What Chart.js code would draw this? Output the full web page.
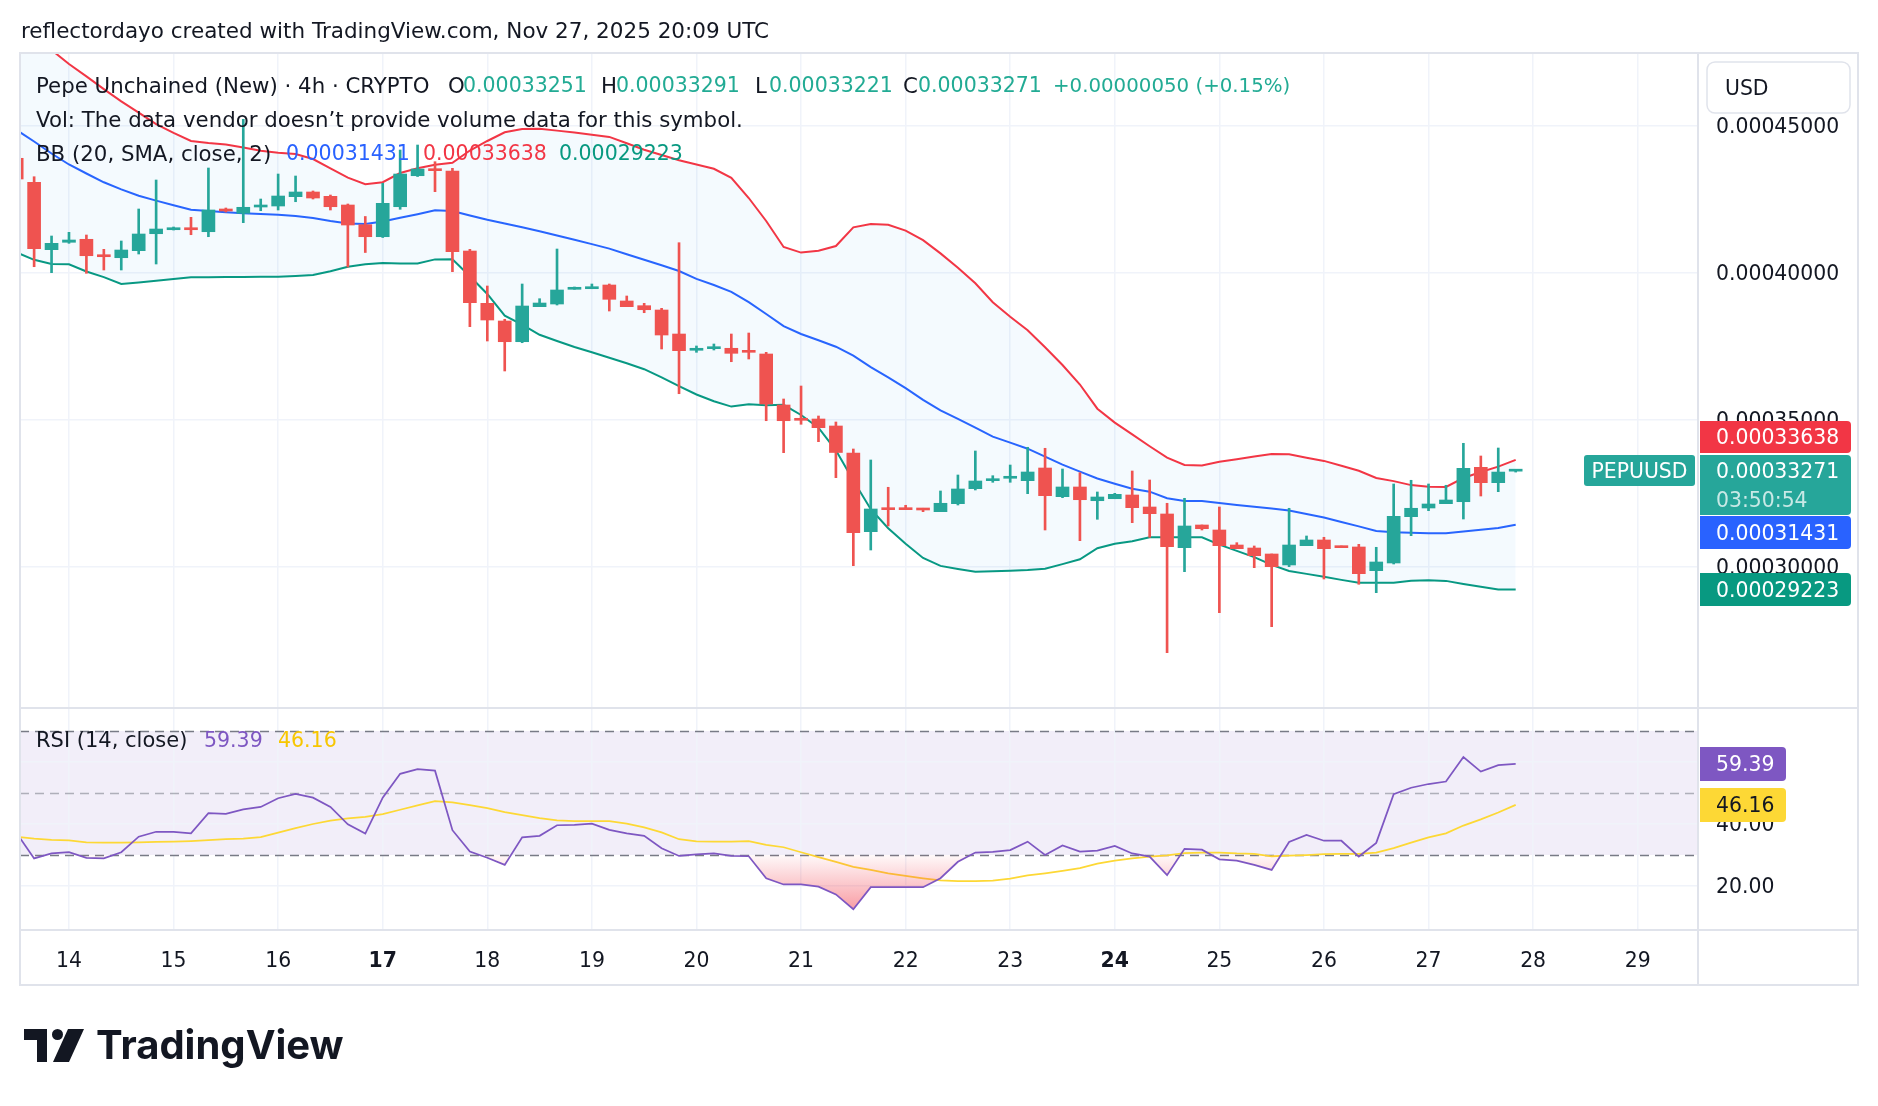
<!DOCTYPE html>
<html>
<head>
<meta charset="utf-8">
<title>PEPUUSD 4h</title>
<script src="https://cdn.jsdelivr.net/npm/chart.js@4.4.1/dist/chart.umd.min.js"></script>
<style>
  html, body { margin: 0; padding: 0; background: #ffffff; overflow: hidden; }
  canvas { display: block; }
</style>
</head>
<body>
<canvas id="chart" width="1878" height="1106"></canvas>
<script>
// 4h bars, counted from Nov 14 00:00 UTC; the first visible bar is Nov 13 12:00
const firstBar = -3;

const open = [
  0.00043901, 0.00043084, 0.00040790, 0.00041042, 0.00041144, 0.00040609, 0.00040517, 0.00040756, 0.00041334, 0.00041470,
  0.00041538, 0.00041402, 0.00042175, 0.00042029, 0.00042243, 0.00042277, 0.00042594, 0.00042754, 0.00042607, 0.00042311,
  0.00041641, 0.00041232, 0.00042253, 0.00043308, 0.00043526, 0.00043468, 0.00040745, 0.00038965, 0.00038363, 0.00037658,
  0.00038850, 0.00038941, 0.00039442, 0.00039462, 0.00039588, 0.00039044, 0.00038884, 0.00038737, 0.00037920, 0.00037366,
  0.00037420, 0.00037434, 0.00037342, 0.00037240, 0.00035504, 0.00035027, 0.00035027, 0.00034789, 0.00033870, 0.00031191,
  0.00031988, 0.00032008, 0.00031988, 0.00031872, 0.00032144, 0.00032655, 0.00032927, 0.00033009, 0.00032927, 0.00033359,
  0.00032383, 0.00032713, 0.00032246, 0.00032314, 0.00032440, 0.00032032, 0.00031794, 0.00030647, 0.00031419, 0.00031249,
  0.00030738, 0.00030636, 0.00030432, 0.00030058, 0.00030715, 0.00030909, 0.00030704, 0.00030671, 0.00029864, 0.00030126,
  0.00031702, 0.00031998, 0.00032144, 0.00032212, 0.00033383, 0.00032859, 0.00033251
];
const high = [
  0.00044013, 0.00043274, 0.00041256, 0.00041382, 0.00041290, 0.00040803, 0.00041086, 0.00042175, 0.00043162, 0.00041562,
  0.00041892, 0.00043570, 0.00042209, 0.00045228, 0.00042515, 0.00043366, 0.00043298, 0.00042788, 0.00042651, 0.00042345,
  0.00041920, 0.00043050, 0.00044183, 0.00044353, 0.00043785, 0.00043560, 0.00040803, 0.00039554, 0.00038421, 0.00039622,
  0.00039122, 0.00040813, 0.00039520, 0.00039622, 0.00039622, 0.00039214, 0.00038965, 0.00038795, 0.00041028, 0.00037512,
  0.00037580, 0.00037920, 0.00037954, 0.00037297, 0.00035708, 0.00036150, 0.00035129, 0.00034925, 0.00034006, 0.00033632,
  0.00032703, 0.00032090, 0.00031988, 0.00032577, 0.00033121, 0.00033938, 0.00033097, 0.00033461, 0.00034064, 0.00034030,
  0.00033325, 0.00033199, 0.00032543, 0.00032498, 0.00033257, 0.00032951, 0.00032158, 0.00032328, 0.00031419, 0.00032032,
  0.00030817, 0.00030705, 0.00030432, 0.00031988, 0.00031045, 0.00031001, 0.00030704, 0.00030762, 0.00030660, 0.00032815,
  0.00032941, 0.00032815, 0.00032771, 0.00034200, 0.00033768, 0.00034040, 0.00033291
];
const low = [
  0.00043060, 0.00040211, 0.00040007, 0.00041007, 0.00039986, 0.00040099, 0.00040099, 0.00040643, 0.00040303, 0.00041460,
  0.00041300, 0.00041232, 0.00042073, 0.00041709, 0.00042117, 0.00042141, 0.00042423, 0.00042515, 0.00042141, 0.00040201,
  0.00040694, 0.00041205, 0.00042165, 0.00043281, 0.00042764, 0.00040041, 0.00038169, 0.00037682, 0.00036661, 0.00037624,
  0.00038850, 0.00038907, 0.00039442, 0.00039462, 0.00038703, 0.00038850, 0.00038645, 0.00037410, 0.00035888, 0.00037297,
  0.00037376, 0.00036977, 0.00037069, 0.00034969, 0.00033880, 0.00034847, 0.00034255, 0.00033029, 0.00030034, 0.00030568,
  0.00031385, 0.00031940, 0.00031872, 0.00031872, 0.00032100, 0.00032611, 0.00032873, 0.00032873, 0.00032485, 0.00031249,
  0.00032348, 0.00030885, 0.00031613, 0.00032314, 0.00031498, 0.00031001, 0.00027073, 0.00029830, 0.00031249, 0.00028434,
  0.00030613, 0.00029966, 0.00027958, 0.00030000, 0.00030715, 0.00029581, 0.00030647, 0.00029401, 0.00029115, 0.00030092,
  0.00031055, 0.00031906, 0.00032144, 0.00031623, 0.00032406, 0.00032553, 0.00033221
];
const close = [
  0.00043196, 0.00040824, 0.00041007, 0.00041120, 0.00040585, 0.00040551, 0.00040779, 0.00041324, 0.00041494, 0.00041538,
  0.00041470, 0.00042141, 0.00042107, 0.00042233, 0.00042311, 0.00042617, 0.00042754, 0.00042549, 0.00042253, 0.00041630,
  0.00041232, 0.00042369, 0.00043366, 0.00043536, 0.00043479, 0.00040722, 0.00038986, 0.00038397, 0.00037658, 0.00038873,
  0.00038975, 0.00039418, 0.00039496, 0.00039530, 0.00039101, 0.00038850, 0.00038747, 0.00037886, 0.00037352, 0.00037434,
  0.00037488, 0.00037263, 0.00037297, 0.00035538, 0.00034969, 0.00034983, 0.00034731, 0.00033887, 0.00031157, 0.00031964,
  0.00031940, 0.00031940, 0.00031930, 0.00032158, 0.00032645, 0.00032917, 0.00032985, 0.00033053, 0.00033223, 0.00032417,
  0.00032713, 0.00032280, 0.00032372, 0.00032464, 0.00032008, 0.00031804, 0.00030681, 0.00031385, 0.00031293, 0.00030715,
  0.00030613, 0.00030375, 0.00030000, 0.00030738, 0.00030909, 0.00030613, 0.00030647, 0.00029762, 0.00030160, 0.00031715,
  0.00031988, 0.00032134, 0.00032270, 0.00033349, 0.00032859, 0.00033221, 0.00033271
];

// Bollinger Bands (20, SMA, close, 2)
const bbUpper = [
  0.00048540, 0.00048063, 0.00047587, 0.00047110, 0.00046688, 0.00046256, 0.00045841, 0.00045453, 0.00045065, 0.00044769,
  0.00044493, 0.00044421, 0.00044367, 0.00044265, 0.00044159, 0.00044091, 0.00044044, 0.00043877, 0.00043560, 0.00043244,
  0.00043016, 0.00043087, 0.00043400, 0.00043560, 0.00043683, 0.00043750, 0.00044166, 0.00044490, 0.00044786, 0.00044898,
  0.00044905, 0.00044843, 0.00044779, 0.00044704, 0.00044629, 0.00044411, 0.00044193, 0.00044013, 0.00043836, 0.00043690,
  0.00043543, 0.00043237, 0.00042549, 0.00041766, 0.00040882, 0.00040691, 0.00040752, 0.00040916, 0.00041552, 0.00041664,
  0.00041641, 0.00041440, 0.00041116, 0.00040664, 0.00040177, 0.00039646, 0.00039003, 0.00038509, 0.00038050, 0.00037471,
  0.00036865, 0.00036201, 0.00035378, 0.00034905, 0.00034503, 0.00034101, 0.00033710, 0.00033461, 0.00033444, 0.00033570,
  0.00033659, 0.00033747, 0.00033836, 0.00033826, 0.00033710, 0.00033601, 0.00033438, 0.00033267, 0.00033019, 0.00032913,
  0.00032777, 0.00032723, 0.00032713, 0.00033019, 0.00033223, 0.00033407, 0.00033638
];
const bbBasis = [
  0.00044864, 0.00044472, 0.00044064, 0.00043690, 0.00043383, 0.00043084, 0.00042845, 0.00042624, 0.00042461, 0.00042304,
  0.00042148, 0.00042103, 0.00042066, 0.00042029, 0.00042005, 0.00041981, 0.00041937, 0.00041869, 0.00041770, 0.00041685,
  0.00041664, 0.00041753, 0.00041875, 0.00041998, 0.00042131, 0.00042107, 0.00041954, 0.00041807, 0.00041681, 0.00041552,
  0.00041416, 0.00041273, 0.00041127, 0.00040980, 0.00040827, 0.00040636, 0.00040449, 0.00040262, 0.00040065, 0.00039796,
  0.00039588, 0.00039353, 0.00039003, 0.00038601, 0.00038186, 0.00037920, 0.00037706, 0.00037488, 0.00037185, 0.00036794,
  0.00036443, 0.00036075, 0.00035681, 0.00035323, 0.00035031, 0.00034731, 0.00034428, 0.00034224, 0.00034016, 0.00033747,
  0.00033475, 0.00033237, 0.00033002, 0.00032825, 0.00032655, 0.00032553, 0.00032328, 0.00032236, 0.00032236, 0.00032171,
  0.00032103, 0.00032042, 0.00031981, 0.00031913, 0.00031797, 0.00031675, 0.00031521, 0.00031372, 0.00031218, 0.00031171,
  0.00031154, 0.00031137, 0.00031137, 0.00031198, 0.00031256, 0.00031317, 0.00031431
];
const bbLower = [
  0.00040694, 0.00040446, 0.00040303, 0.00040296, 0.00040048, 0.00039857, 0.00039622, 0.00039677, 0.00039731, 0.00039796,
  0.00039850, 0.00039853, 0.00039857, 0.00039860, 0.00039867, 0.00039871, 0.00039898, 0.00039928, 0.00040058, 0.00040211,
  0.00040296, 0.00040337, 0.00040323, 0.00040320, 0.00040460, 0.00040463, 0.00039888, 0.00039282, 0.00038543, 0.00038240,
  0.00037893, 0.00037682, 0.00037478, 0.00037297, 0.00037110, 0.00036923, 0.00036722, 0.00036443, 0.00036144, 0.00035861,
  0.00035633, 0.00035449, 0.00035527, 0.00035497, 0.00035511, 0.00035163, 0.00034731, 0.00033962, 0.00032934, 0.00031957,
  0.00031307, 0.00030779, 0.00030296, 0.00030027, 0.00029925, 0.00029830, 0.00029847, 0.00029864, 0.00029888, 0.00029928,
  0.00030088, 0.00030252, 0.00030630, 0.00030779, 0.00030868, 0.00031001, 0.00031001, 0.00031001, 0.00030998, 0.00030749,
  0.00030538, 0.00030327, 0.00030061, 0.00029854, 0.00029755, 0.00029656, 0.00029551, 0.00029455, 0.00029455, 0.00029455,
  0.00029523, 0.00029537, 0.00029517, 0.00029411, 0.00029316, 0.00029227, 0.00029223
];

// RSI (14, close) and its moving average
const rsi = [
  37.0, 28.9, 30.5, 30.9, 29.1, 28.9, 30.9, 35.9, 37.5, 37.5,
  37.0, 43.5, 43.3, 44.7, 45.5, 48.3, 49.7, 48.5, 45.5, 39.9,
  36.9, 48.5, 56.2, 57.7, 57.2, 38.0, 31.1, 29.1, 26.8, 35.7,
  36.2, 39.6, 39.7, 40.1, 38.1, 37.0, 36.2, 32.2, 29.7, 30.2,
  30.5, 29.7, 29.6, 22.5, 20.5, 20.5, 19.8, 17.3, 12.5, 19.6,
  19.6, 19.6, 19.6, 22.5, 27.8, 30.8, 31.0, 31.6, 34.3, 30.0,
  33.1, 31.1, 31.4, 32.9, 30.5, 29.5, 23.5, 32.0, 31.7, 28.6,
  28.2, 26.8, 25.2, 34.2, 36.5, 34.6, 34.6, 29.5, 33.9, 49.6,
  51.7, 52.9, 53.7, 61.6, 56.9, 59.0, 59.39
];
const rsiMa = [
  35.9, 35.3, 34.9, 34.7, 34.1, 34.0, 34.0, 34.1, 34.2, 34.3,
  34.5, 34.8, 35.1, 35.3, 35.8, 37.2, 38.7, 40.0, 41.1, 41.8,
  42.3, 43.2, 44.6, 46.0, 47.4, 47.0, 46.1, 45.1, 43.8, 42.9,
  41.9, 41.2, 40.9, 40.9, 40.9, 40.1, 38.9, 37.3, 35.1, 34.4,
  34.3, 34.3, 34.5, 33.3, 32.5, 30.9, 29.3, 27.8, 26.2, 25.2,
  24.1, 23.3, 22.5, 21.8, 21.6, 21.6, 21.7, 22.4, 23.4, 24.1,
  24.9, 25.8, 27.2, 28.2, 28.9, 29.5, 29.9, 30.6, 30.8, 30.8,
  30.5, 30.4, 29.6, 29.8, 30.0, 30.3, 30.4, 30.4, 30.8, 32.2,
  34.0, 35.7, 37.0, 39.5, 41.5, 43.7, 46.16
];

const dayLabels = ['14', '15', '16', '17', '18', '19', '20', '21', '22', '23', '24', '25', '26', '27', '28', '29'];
const weekStarts = ['17', '24'];
const priceTicks = [0.00030, 0.00035, 0.00040, 0.00045];
const rsiTicks = [20, 40, 60];
const rsiLevels = [70, 50, 30];

const FONT = '"DejaVu Sans", sans-serif';
const INK = '#131722';
const UP = '#26a69a';
const DOWN = '#ef5350';
const GRID = '#f0f3fa';
const LINE = '#e0e3eb';

Chart.defaults.font.family = FONT;
Chart.defaults.color = INK;

const bars = close.map((c, k) => firstBar + k);
const pts = arr => arr.map((v, k) => ({ x: bars[k], y: v }));
const candleColor = close.map((c, k) => (c >= open[k] ? UP : DOWN));

function oversoldFill(c) {
  const chart = c.chart;
  const s = chart.scales.rsi;
  if (!chart.chartArea || !s) return 'rgba(242, 54, 69, 0.25)';
  const g = chart.ctx.createLinearGradient(0, s.getPixelForValue(30), 0, s.getPixelForValue(10));
  g.addColorStop(0, 'rgba(242, 54, 69, 0.03)');
  g.addColorStop(1, 'rgba(242, 54, 69, 0.55)');
  return g;
}

function font(size, weight) {
  return (weight ? weight + ' ' : '') + size + 'px ' + FONT;
}

const overlay = {
  id: 'overlay',
  beforeDraw(chart) {
    const { ctx, chartArea, scales } = chart;
    ctx.save();
    ctx.fillStyle = '#ffffff';
    ctx.fillRect(0, 0, chart.width, chart.height);
    // RSI 30..70 band
    const y70 = scales.rsi.getPixelForValue(70);
    const y30 = scales.rsi.getPixelForValue(30);
    ctx.fillStyle = 'rgba(126, 87, 194, 0.1)';
    ctx.fillRect(chartArea.left, y70, chartArea.right - chartArea.left, y30 - y70);
    ctx.restore();
  },
  beforeDatasetsDraw(chart) {
    const { ctx, chartArea, scales } = chart;
    ctx.save();
    ctx.lineWidth = 1.5;
    ctx.setLineDash([9, 6]);
    rsiLevels.forEach(v => {
      const y = Math.round(scales.rsi.getPixelForValue(v)) + 0.5;
      ctx.strokeStyle = v === 50 ? 'rgba(120, 123, 134, 0.55)' : '#787b86';
      ctx.beginPath();
      ctx.moveTo(chartArea.left, y);
      ctx.lineTo(chartArea.right, y);
      ctx.stroke();
    });
    ctx.restore();
  },
  afterDraw(chart) {
    const { ctx, chartArea, scales } = chart;
    const n = close.length - 1;
    const right = 1858, bottom = 985, top = 53;
    ctx.save();

    // frame and pane separators
    ctx.strokeStyle = LINE;
    ctx.lineWidth = 2;
    ctx.beginPath();
    ctx.rect(chartArea.left, top, right - chartArea.left, bottom - top);
    ctx.moveTo(chartArea.left, scales.y.bottom); ctx.lineTo(right, scales.y.bottom);
    ctx.moveTo(chartArea.left, chartArea.bottom); ctx.lineTo(right, chartArea.bottom);
    ctx.moveTo(chartArea.right, top); ctx.lineTo(chartArea.right, bottom);
    ctx.stroke();

    ctx.textBaseline = 'middle';
    ctx.textAlign = 'left';

    // header
    ctx.fillStyle = INK;
    ctx.font = font(21.5);
    ctx.fillText('reflectordayo created with TradingView.com, Nov 27, 2025 20:09 UTC', 21, 32);

    // legend
    const valColor = close[n] >= open[n] ? '#22ab94' : DOWN;
    const label = font(21.3), num = font(20.5);
    ctx.font = label;
    ctx.fillStyle = INK;
    ctx.fillText('Pepe Unchained (New) \u00b7 4h \u00b7 CRYPTO', 36, 87);
    [['O', open[n], 448, 463], ['H', high[n], 601, 616], ['L', low[n], 755, 769], ['C', close[n], 903, 918]].forEach(([k, v, x, vx]) => {
      ctx.font = label;
      ctx.fillStyle = INK;
      ctx.fillText(k, x, 87);
      ctx.font = num;
      ctx.fillStyle = valColor;
      ctx.fillText(v.toFixed(8), vx, 87);
    });
    const chg = close[n] - close[n - 1];
    ctx.font = font(19.8);
    ctx.fillText('+' + chg.toFixed(8) + ' (+' + (chg / close[n - 1] * 100).toFixed(2) + '%)', 1053, 87);

    ctx.font = label;
    ctx.fillStyle = INK;
    ctx.fillText('Vol: The data vendor doesn\u2019t provide volume data for this symbol.', 36, 121);
    ctx.fillText('BB (20, SMA, close, 2)', 36, 155);
    ctx.font = num;
    ctx.fillStyle = '#2962ff'; ctx.fillText(bbBasis[n].toFixed(8), 286, 155);
    ctx.fillStyle = '#f23645'; ctx.fillText(bbUpper[n].toFixed(8), 423, 155);
    ctx.fillStyle = '#089981'; ctx.fillText(bbLower[n].toFixed(8), 559, 155);

    ctx.font = font(21);
    ctx.fillStyle = INK;
    ctx.fillText('RSI (14, close)', 36, 742);
    ctx.font = num;
    ctx.fillStyle = '#7e57c2'; ctx.fillText(rsi[n].toFixed(2), 204, 742);
    ctx.fillStyle = '#f7c600'; ctx.fillText(rsiMa[n].toFixed(2), 278, 742);

    // currency button
    ctx.font = font(20.4);
    ctx.fillStyle = '#ffffff';
    ctx.strokeStyle = LINE;
    ctx.lineWidth = 1.5;
    ctx.beginPath(); ctx.roundRect(1707, 62, 143, 51, 8); ctx.fill(); ctx.stroke();
    ctx.fillStyle = INK;
    ctx.fillText('USD', 1725, 90);

    // axis tags
    const tag = (y, h, bg, x = 1700, w = 151) => {
      ctx.fillStyle = bg;
      ctx.beginPath(); ctx.roundRect(x, y, w, h, [0, 4, 4, 0]); ctx.fill();
    };
    tag(421, 32, '#f23645');
    tag(455, 60, UP);
    tag(516, 33, '#2962ff');
    tag(573, 33, '#089981');
    tag(747, 34, '#7e57c2', 1700, 86);
    tag(788, 34, '#fdd835', 1700, 86);
    ctx.fillStyle = '#ffffff';
    ctx.fillText(bbUpper[n].toFixed(8), 1716, 439);
    ctx.fillText(close[n].toFixed(8), 1716, 473);
    ctx.fillStyle = 'rgba(255, 255, 255, 0.75)';
    ctx.fillText('03:50:54', 1716, 502);
    ctx.fillStyle = '#ffffff';
    ctx.fillText(bbBasis[n].toFixed(8), 1716, 535);
    ctx.fillText(bbLower[n].toFixed(8), 1716, 592);
    ctx.fillText(rsi[n].toFixed(2), 1716, 766);
    ctx.fillStyle = INK;
    ctx.fillText(rsiMa[n].toFixed(2), 1716, 807);

    // symbol tag
    ctx.fillStyle = UP;
    ctx.beginPath(); ctx.roundRect(1584, 455, 111, 31, 3); ctx.fill();
    ctx.fillStyle = '#ffffff';
    ctx.textAlign = 'center';
    ctx.fillText('PEPUUSD', 1639.5, 473);

    // TradingView logo
    ctx.fillStyle = INK;
    ctx.fillRect(24, 1029, 23, 11);
    ctx.fillRect(37, 1029, 10, 33);
    ctx.beginPath(); ctx.arc(57.5, 1034.5, 5.5, 0, Math.PI * 2); ctx.fill();
    ctx.beginPath();
    ctx.moveTo(68, 1029); ctx.lineTo(84, 1029); ctx.lineTo(69, 1062); ctx.lineTo(53, 1062);
    ctx.closePath(); ctx.fill();
    ctx.textAlign = 'left';
    ctx.textBaseline = 'alphabetic';
    ctx.font = '700 40px Inter, "DejaVu Sans", sans-serif';
    ctx.fillText('TradingView', 96, 1059);

    ctx.restore();
  }
};

new Chart(document.getElementById('chart'), {
  type: 'bar',
  data: {
    datasets: [
      { type: 'line', label: 'BB upper', data: pts(bbUpper), yAxisID: 'y', borderColor: '#f23645', borderWidth: 2,
        pointRadius: 0, tension: 0, fill: '+2', backgroundColor: 'rgba(33, 150, 243, 0.05)', order: 3 },
      { type: 'line', label: 'BB basis', data: pts(bbBasis), yAxisID: 'y', borderColor: '#2962ff', borderWidth: 2,
        pointRadius: 0, tension: 0, fill: false, order: 3 },
      { type: 'line', label: 'BB lower', data: pts(bbLower), yAxisID: 'y', borderColor: '#089981', borderWidth: 2,
        pointRadius: 0, tension: 0, fill: false, order: 3 },
      { label: 'Wicks', data: low.map((v, k) => ({ x: bars[k], y: [v, high[k]] })), yAxisID: 'y',
        backgroundColor: candleColor, barThickness: 2, grouped: false, order: 2 },
      { label: 'Bodies', data: open.map((v, k) => ({ x: bars[k], y: [v, close[k]] })), yAxisID: 'y',
        backgroundColor: candleColor, barThickness: 13, minBarLength: 2, grouped: false, order: 1 },
      { type: 'line', label: 'RSI-based MA', data: pts(rsiMa), yAxisID: 'rsi', borderColor: '#fdd835', borderWidth: 1.75,
        pointRadius: 0, tension: 0, fill: false, order: 5 },
      { type: 'line', label: 'RSI', data: pts(rsi), yAxisID: 'rsi', borderColor: '#7e57c2', borderWidth: 1.75,
        pointRadius: 0, tension: 0, backgroundColor: oversoldFill,
        fill: { target: { value: 30 }, above: 'rgba(0, 0, 0, 0)' }, order: 4 }
    ]
  },
  options: {
    responsive: false,
    animation: false,
    devicePixelRatio: 1,
    layout: { padding: { left: 20, top: 54, right: 20, bottom: 121 } },
    plugins: { legend: { display: false }, tooltip: { enabled: false } },
    scales: {
      x: {
        type: 'linear', min: -2.81, max: 93.46, offset: false,
        grid: { color: GRID, lineWidth: 1.5, drawTicks: false, offset: false },
        border: { display: true, color: LINE, width: 2 },
        afterBuildTicks: s => { s.ticks = dayLabels.map((d, k) => ({ value: k * 6 })); },
        afterFit: s => { s.height = 55; },
        ticks: {
          autoSkip: false, maxRotation: 0, padding: 19, color: INK,
          callback: v => dayLabels[Math.round(v / 6)],
          font: c => ({ family: FONT, size: 20.4, weight: weekStarts.includes(dayLabels[c.index]) ? 'bold' : 'normal' })
        }
      },
      y: {
        position: 'right', stack: 'pane', stackWeight: 654, min: 0.0002519, max: 0.00047451,
        grid: { color: GRID, lineWidth: 1.5, drawTicks: false },
        border: { display: false },
        afterBuildTicks: s => { s.ticks = priceTicks.map(v => ({ value: v })); },
        afterFit: s => { s.width = 160; },
        ticks: { autoSkip: false, padding: 18, labelOffset: 2, color: INK, font: { family: FONT, size: 20.4 }, callback: v => v.toFixed(8) }
      },
      rsi: {
        position: 'right', stack: 'pane', stackWeight: 222, min: 5.81, max: 77.42,
        grid: { color: GRID, lineWidth: 1.5, drawTicks: false },
        border: { display: false },
        afterBuildTicks: s => { s.ticks = rsiTicks.map(v => ({ value: v })); },
        afterFit: s => { s.width = 160; },
        ticks: { autoSkip: false, padding: 18, labelOffset: 2, color: INK, font: { family: FONT, size: 20.4 }, callback: v => v.toFixed(2) }
      }
    }
  },
  plugins: [overlay]
});
</script>
</body>
</html>
